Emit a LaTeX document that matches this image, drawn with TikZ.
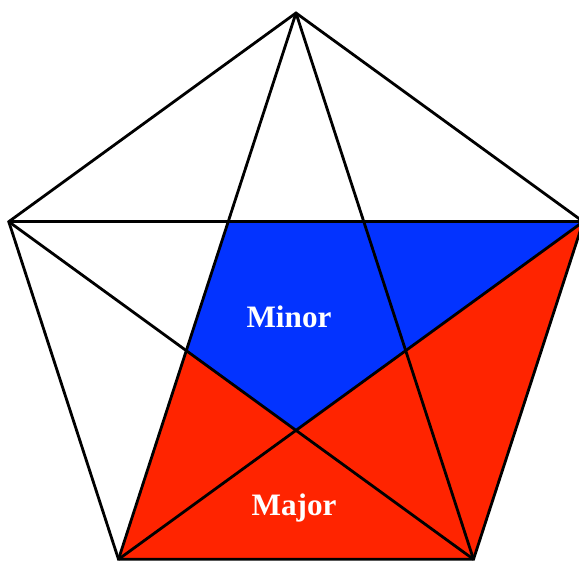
\documentclass[tikz,border=0pt]{standalone}
\usepackage{fontspec}
\setmainfont{Liberation Serif}
\usetikzlibrary{calc}
\definecolor{minorblue}{RGB}{3,51,255}
\definecolor{majorred}{RGB}{255,36,0}
\tikzset{
  pentaline/.style={draw=black, line width=1.4pt},
  regionlabel/.style={text=white, font=\fontsize{15.6}{18}\selectfont\bfseries}
}
\begin{document}
\begin{tikzpicture}[x=0.5pt, y=0.5pt]
  \useasboundingbox (0,0) rectangle (579,561);
  % Corners of the pentagon
  \coordinate (T)  at ($(296,246)+(90:302)$);
  \coordinate (L)  at ($(296,246)+(162:302)$);
  \coordinate (BL) at ($(296,246)+(234:302)$);
  \coordinate (BR) at ($(296,246)+(306:302)$);
  \coordinate (R)  at ($(296,246)+(18:302)$);
  % Crossing points of the diagonals
  \coordinate (P1) at (intersection of T--BL and L--R);
  \coordinate (P2) at (intersection of T--BL and L--BR);
  \coordinate (P3) at (intersection of L--BR and R--BL);
  % Filled regions
  \fill[minorblue] (P1) -- (R) -- (P3) -- (P2) -- cycle;
  \fill[majorred] (BL) -- (P2) -- (P3) -- (R) -- (BR) -- cycle;
  % Outline and diagonals
  \draw[pentaline] (T) -- (L) -- (BL) -- (BR) -- (R) -- cycle;
  \draw[pentaline] (T) -- (BL);
  \draw[pentaline] (T) -- (BR);
  \draw[pentaline] (L) -- (R);
  \draw[pentaline] (L) -- (BR);
  \draw[pentaline] (R) -- (BL);
  % Labels
  \node[regionlabel] (minor) at (289,244) {Minor};
  \node[regionlabel] (major) at (294,53) {Major};
\end{tikzpicture}
\end{document}
